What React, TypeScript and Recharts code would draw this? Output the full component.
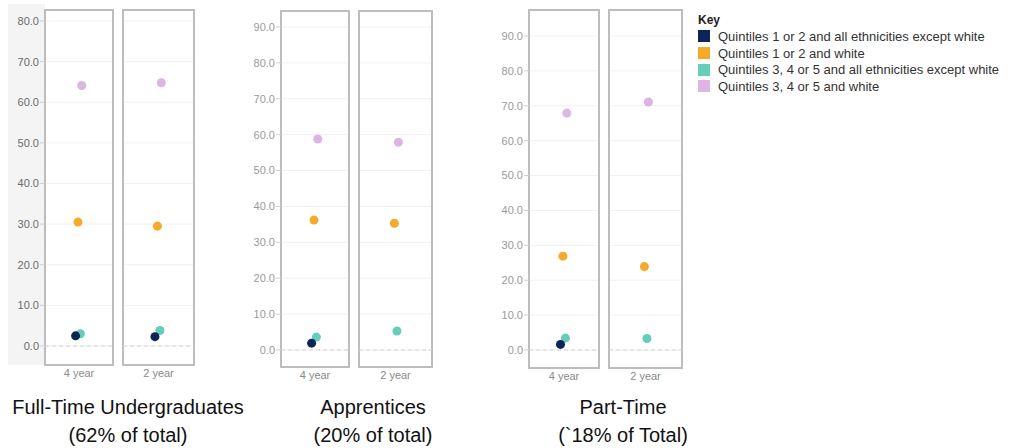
import React from 'react';
import { ScatterChart, Scatter, XAxis, YAxis, ZAxis, CartesianGrid, ReferenceArea, ReferenceLine } from 'recharts';

const SERIES = [
  'Quintiles 1 or 2 and all ethnicities except white',
  'Quintiles 1 or 2 and white',
  'Quintiles 3, 4 or 5 and all ethnicities except white',
  'Quintiles 3, 4 or 5 and white',
];
const COLORS = ['#0c2557', '#f5aa2a', '#66cdb9', '#dcb5e3'];
// small horizontal offset of each series inside a panel (0..1)
const JITTER = [0.45, 0.485, 0.52, 0.54];
// draw order: teal under navy
const DRAW_ORDER = [2, 0, 1, 3];

const PERIODS = ['4 year', '2 year'];

const TITLES = ['Full-Time Undergraduates', 'Apprentices', 'Part-Time'];
const SUBTITLES = ['(62% of total)', '(20% of total)', '(`18% of Total)'];

// values per period [4 year, 2 year]
const ftNonWhiteQ12 = [2.5, 2.3];
const ftWhiteQ12 = [30.5, 29.5];
const ftNonWhiteQ345 = [3.0, 3.8];
const ftWhiteQ345 = [64.1, 64.8];

const apNonWhiteQ12 = [1.9, null];
const apWhiteQ12 = [36.2, 35.3];
const apNonWhiteQ345 = [3.6, 5.3];
const apWhiteQ345 = [58.8, 57.9];

const ptNonWhiteQ12 = [1.6, null];
const ptWhiteQ12 = [26.9, 23.9];
const ptNonWhiteQ345 = [3.4, 3.3];
const ptWhiteQ345 = [67.9, 71.1];

const TICKS_80 = [0, 10, 20, 30, 40, 50, 60, 70, 80];
const TICKS_90 = [0, 10, 20, 30, 40, 50, 60, 70, 80, 90];

const groups = [
  {
    values: [ftNonWhiteQ12, ftWhiteQ12, ftNonWhiteQ345, ftWhiteQ345],
    domain: [-4.68, 82.7],
    ticks: TICKS_80,
    boxes: [[45, 113], [123, 194]],
    top: 10,
    bottom: 365,
    axisWidth: 37,
    tickColor: '#6b6b6b',
    titleX: 128,
  },
  {
    values: [apNonWhiteQ12, apWhiteQ12, apNonWhiteQ345, apWhiteQ345],
    domain: [-4.74, 94.46],
    ticks: TICKS_90,
    boxes: [[281, 349], [359, 432]],
    top: 11,
    bottom: 367,
    axisWidth: 40,
    tickColor: '#9a9a9a',
    titleX: 373,
  },
  {
    values: [ptNonWhiteQ12, ptWhiteQ12, ptNonWhiteQ345, ptWhiteQ345],
    domain: [-5.16, 97.45],
    ticks: TICKS_90,
    boxes: [[529, 599], [609, 682]],
    top: 10,
    bottom: 368,
    axisWidth: 40,
    tickColor: '#9a9a9a',
    titleX: 623,
  },
];

const M = 2;
const X_AXIS_H = 20;

function Panel({ group, p, showAxis }: any) {
  const [x0, x1] = group.boxes[p];
  const axisW = showAxis ? group.axisWidth : 0;
  const width = axisW + (x1 - x0) + 2 * M;
  const height = group.bottom - group.top + M + X_AXIS_H;
  const left = x0 - axisW - M;
  const top = group.top - M;
  return (
    <div style={{ position: 'absolute', left, top }}>
      <ScatterChart width={width} height={height} margin={{ top: M, right: M, bottom: 0, left: M }}>
        <CartesianGrid vertical={false} stroke="#f1f1f1" />
        <XAxis
          type="number"
          dataKey="x"
          domain={[0, 1]}
          ticks={[0.5]}
          tickFormatter={() => PERIODS[p]}
          axisLine={false}
          tickLine={false}
          tickSize={2}
          tickMargin={2}
          height={X_AXIS_H}
          tick={{ fill: '#8a8a8a', fontSize: 11 }}
        />
        <YAxis
          type="number"
          dataKey="y"
          domain={group.domain}
          allowDataOverflow
          ticks={group.ticks}
          hide={!showAxis}
          width={axisW}
          axisLine={false}
          tickLine={{ stroke: '#cfcfcf' }}
          tickSize={5}
          tickMargin={1}
          tickFormatter={(v: number) => v.toFixed(1)}
          tick={{ fill: group.tickColor, fontSize: 11 }}
        />
        <ZAxis range={[85, 85]} />
        <ReferenceLine y={0} stroke="#d2d2d2" strokeDasharray="4 3" />
        <ReferenceArea
          x1={0}
          x2={1}
          y1={group.domain[0]}
          y2={group.domain[1]}
          fill="none"
          fillOpacity={0}
          stroke="#bdbdbd"
          strokeWidth={2}
          ifOverflow="visible"
        />
        {DRAW_ORDER.map((s) => {
          const v = group.values[s][p];
          const data = v == null ? [] : [{ x: JITTER[s], y: v }];
          return (
            <Scatter key={s} name={SERIES[s]} data={data} fill={COLORS[s]} isAnimationActive={false} />
          );
        })}
      </ScatterChart>
    </div>
  );
}

export default function App() {
  return (
    <div
      style={{
        position: 'relative',
        width: 1018,
        height: 448,
        overflow: 'hidden',
        fontFamily: '"Liberation Sans", Arial, sans-serif',
        background: '#fff',
      }}
    >
      <style>{'body{margin:0}'}</style>
      <div style={{ position: 'absolute', left: 8, top: 4, width: 37, height: 361, background: '#f4f4f4' }} />
      {groups.map((g, gi) => (
        <React.Fragment key={gi}>
          <Panel group={g} p={0} showAxis />
          <Panel group={g} p={1} showAxis={false} />
          <div
            style={{
              position: 'absolute',
              left: g.titleX - 150,
              width: 300,
              top: 393,
              textAlign: 'center',
              fontSize: 20,
              lineHeight: '28px',
              color: '#111',
            }}
          >
            <div>{TITLES[gi]}</div>
            <div>{SUBTITLES[gi]}</div>
          </div>
        </React.Fragment>
      ))}
      <div style={{ position: 'absolute', left: 698, top: 12, fontSize: 13, color: '#333' }}>
        <div style={{ fontWeight: 'bold', color: '#222', fontSize: 12, height: 16, lineHeight: '16px' }}>Key</div>
        {SERIES.map((s, i) => (
          <div key={s} style={{ display: 'flex', alignItems: 'center', height: 16.7, whiteSpace: 'nowrap' }}>
            <span style={{ width: 12, height: 12, background: COLORS[i], marginRight: 8, display: 'inline-block' }} />
            <span>{s}</span>
          </div>
        ))}
      </div>
    </div>
  );
}
